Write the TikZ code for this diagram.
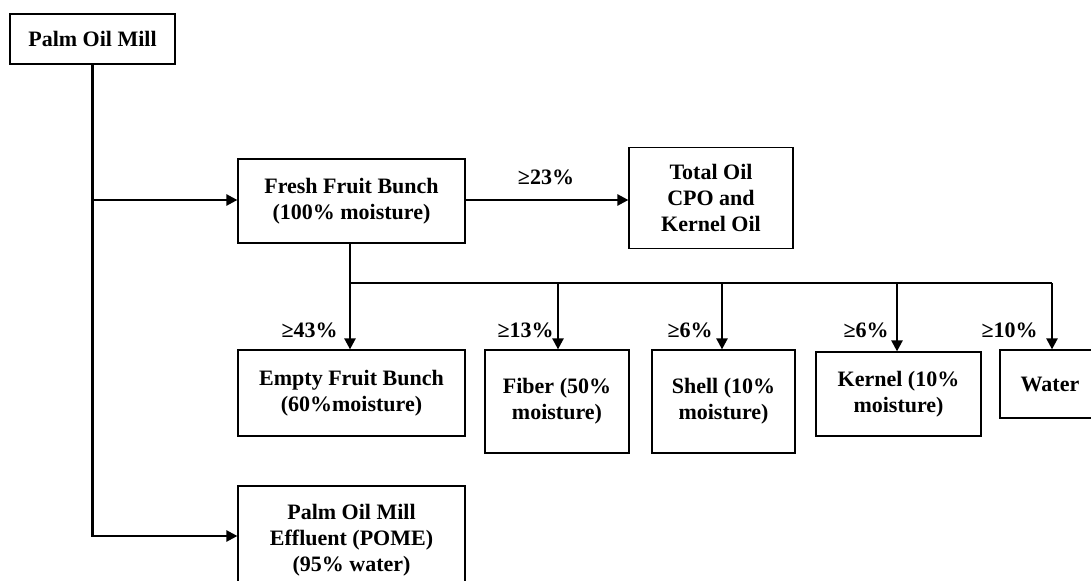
\documentclass[tikz,border=0pt]{standalone}
\usepackage{fontspec}
\setmainfont{Liberation Serif}
\usetikzlibrary{arrows.meta}
\begin{document}
\begin{tikzpicture}[x=0.5pt,y=-0.5pt,
  every node/.style={font=\fontsize{11}{13}\selectfont\bfseries},
  box/.style={draw, line width=0.6pt, align=center, inner sep=0pt},
  conn/.style={line width=1.2pt},
  arr/.style={conn, -{Triangle[length=5.5pt,width=5.5pt]}},
  pct/.style={anchor=east, inner sep=0pt}]
\useasboundingbox (0,0) rectangle (1091,581);
% boxes
\node[box, minimum width=82.5pt, minimum height=25pt] (mill) at (92.5,39) {Palm Oil Mill};
\node[box, minimum width=113.5pt, minimum height=42pt] (ffb) at (351.5,201) {Fresh Fruit Bunch\\(100\% moisture)};
\node[box, minimum width=82pt, minimum height=50.5pt] (oil) at (711,198) {Total Oil\\CPO and\\Kernel Oil};
\node[box, minimum width=113.5pt, minimum height=43pt] (efb) at (351.5,393) {Empty Fruit Bunch\\(60\%moisture)};
\node[box, minimum width=72pt, minimum height=51.5pt] (fiber) at (557,401.5) {Fiber (50\%\\moisture)};
\node[box, minimum width=71.5pt, minimum height=51.5pt] (shell) at (723.5,401.5) {Shell (10\%\\moisture)};
\node[box, minimum width=82.5pt, minimum height=42pt] (kernel) at (898.5,394) {Kernel (10\%\\moisture)};
\node[box, minimum width=50pt, minimum height=34pt] (water) at (1050,384) {Water};
\node[box, minimum width=113.5pt, minimum height=54pt] (pome) at (351.5,540) {Palm Oil Mill\\Effluent (POME)\\(95\% water)};
% junctions
\coordinate (j1) at (92.5,200);
\coordinate (j3) at (92.5,536);
\coordinate (b1) at (350,283);
\coordinate (b2) at (558,283);
\coordinate (b3) at (722,283);
\coordinate (b4) at (897,283);
\coordinate (b5) at (1052,283);
% connectors
\draw[arr] (mill.south) -- (j3) -- (j3 -| pome.west);
\draw[arr] (j1) -- (j1 -| ffb.west);
\draw[arr] (ffb.east |- j1) -- (j1 -| oil.west);
\draw[conn] (ffb.south -| b1) -- (b1) -- (b5);
\draw[arr] (b1) -- (b1 |- efb.north);
\draw[arr] (b2) -- (b2 |- fiber.north);
\draw[arr] (b3) -- (b3 |- shell.north);
\draw[arr] (b4) -- (b4 |- kernel.north);
\draw[arr] (b5) -- (b5 |- water.north);
% labels
\node[inner sep=0pt] (l23) at (546,177) {≥23\%};
\node[pct] (l43) at (338,330) {≥43\%};
\node[pct] (l13) at (554,330) {≥13\%};
\node[pct] (l6a) at (713,330) {≥6\%};
\node[pct] (l6b) at (889,330) {≥6\%};
\node[pct] (l10) at (1038,330) {≥10\%};
\end{tikzpicture}
\end{document}
